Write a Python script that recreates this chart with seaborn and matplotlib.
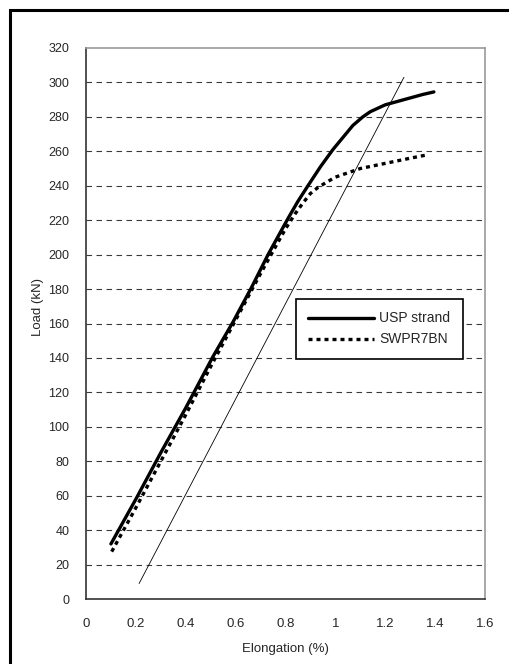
import pandas as pd
import matplotlib.pyplot as plt
import seaborn as sns
from matplotlib.patches import Rectangle

# Load-elongation curves
usp_elong = [0.10, 0.20, 0.30, 0.40, 0.51, 0.59, 0.664, 0.73, 0.81, 0.85, 0.89, 0.94, 0.99, 1.03, 1.07, 1.11, 1.14, 1.17, 1.20, 1.25, 1.30, 1.35, 1.395]
usp_load = [32, 58, 85, 111, 141, 161, 181, 200, 221, 231, 240, 251, 261, 268, 275, 280, 283, 285, 287, 289, 291, 293, 294.5]

swpr_elong = [0.103, 0.20, 0.30, 0.40, 0.50, 0.60, 0.70, 0.80, 0.84, 0.87, 0.90, 0.93, 0.97, 1.00, 1.05, 1.10, 1.20, 1.30, 1.37]
swpr_load = [27.5, 53, 80, 107, 135, 162, 189, 215, 224, 230, 235.5, 239, 242.5, 245, 247.5, 250, 253, 256, 258]

# 0.2% offset line
offset_elong = [0.213, 1.275]
offset_load = [9, 303]

y_ticks = list(range(0, 321, 20))
x_ticks = [0, 0.2, 0.4, 0.6, 0.8, 1, 1.2, 1.4, 1.6]
x_ticklabels = ['0', '0.2', '0.4', '0.6', '0.8', '1', '1.2', '1.4', '1.6']

df = pd.concat([
    pd.DataFrame({'Elongation': usp_elong, 'Load': usp_load, 'Strand': 'USP strand'}),
    pd.DataFrame({'Elongation': swpr_elong, 'Load': swpr_load, 'Strand': 'SWPR7BN'}),
])

sns.set_style('white')
plt.rcParams['font.family'] = ['Liberation Sans', 'DejaVu Sans']
plt.rcParams['font.size'] = 10

fig = plt.figure(figsize=(5.1, 6.64), dpi=100)
ax = fig.add_axes([86 / 510, 1 - 599 / 664, 399 / 510, 551 / 664])

# outer frame of the figure (right and bottom run past the image)
fig.patches.append(Rectangle((10 / 510, -0.1), 1.2, (654 / 664) + 0.1, transform=fig.transFigure,
                             fill=False, edgecolor='black', linewidth=2.2, zorder=0))

for yv in y_ticks[1:-1]:
    ax.axhline(yv, color='#3a3a3a', linewidth=0.8, linestyle=(0, (5, 4)), zorder=1)

sns.lineplot(data=df, x='Elongation', y='Load', hue='Strand', style='Strand',
             palette=['black', 'black'], dashes={'USP strand': '', 'SWPR7BN': (1.2, 1.2)},
             linewidth=2.4, sort=False, ax=ax, zorder=3)
sns.lineplot(x=offset_elong, y=offset_load, color='black', linewidth=0.6, ax=ax, zorder=2)

ax.set_xlim(0, 1.6)
ax.set_ylim(0, 320)
ax.set_xticks(x_ticks)
ax.set_xticklabels(x_ticklabels)
ax.set_yticks(y_ticks)
ax.tick_params(axis='x', direction='in', length=4, width=0.8, color='#333333', pad=14, labelsize=9.5)
ax.tick_params(axis='y', length=0, pad=12, labelsize=9)
ax.set_xlabel('Elongation (%)', fontsize=9.5, labelpad=9)
ax.set_ylabel('Load (kN)', fontsize=9.5, labelpad=6)
ax.yaxis.set_label_coords(-0.105, 0.53)

for side in ['top', 'right']:
    ax.spines[side].set_color('#999999')
    ax.spines[side].set_linewidth(1.2)
for side in ['left', 'bottom']:
    ax.spines[side].set_color('#333333')
    ax.spines[side].set_linewidth(1.2)

leg = ax.legend(loc='upper left', bbox_to_anchor=(0.526, 0.5445), borderaxespad=0,
                frameon=True, fancybox=False, edgecolor='black', framealpha=1,
                handlelength=4.7, handletextpad=0.4, labelspacing=0.5, borderpad=0.9,
                fontsize=10, title=None)
leg.get_frame().set_linewidth(1.2)

fig.savefig('out.png', dpi=100)
